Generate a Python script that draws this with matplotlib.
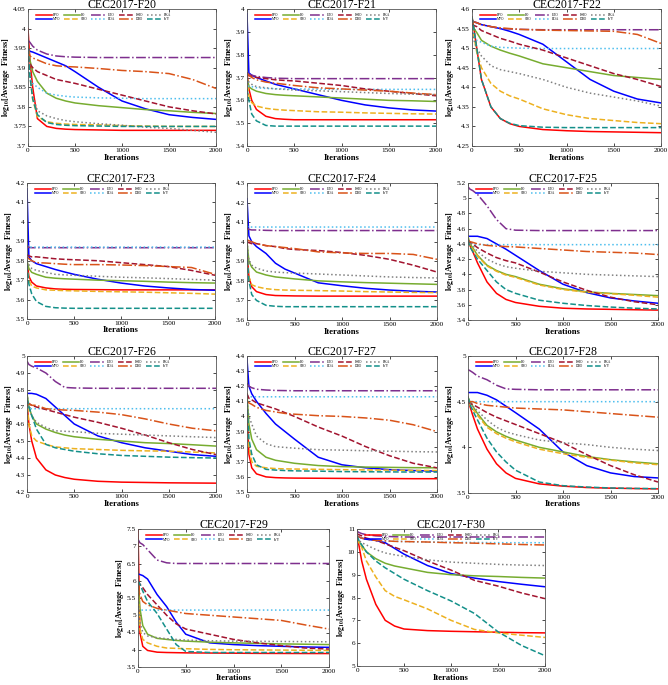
import matplotlib
matplotlib.use("Agg")
import matplotlib.pyplot as plt
from matplotlib.ticker import MultipleLocator, FuncFormatter

plt.rcParams['font.family'] = ['Liberation Serif', 'DejaVu Serif']
plt.rcParams['mathtext.fontset'] = 'stix'

X = [0, 20, 50, 100, 200, 300, 400, 500, 750, 1000, 1250, 1500, 1750, 2000]
ALGOS = ['EPO', 'MPO', 'PO', 'SBO', 'ETO', 'BOA', 'HHO', 'DBO', 'BKA', 'IVY']

F20 = {
    'EPO': [4.00, 3.92, 3.85, 3.77, 3.75, 3.745, 3.743, 3.742, 3.741, 3.740, 3.740, 3.740, 3.740, 3.740],
    'MPO': [3.95, 3.942, 3.94, 3.935, 3.925, 3.915, 3.905, 3.89, 3.85, 3.815, 3.795, 3.780, 3.773, 3.768],
    'PO':  [3.96, 3.92, 3.89, 3.865, 3.835, 3.822, 3.815, 3.810, 3.803, 3.798, 3.793, 3.790, 3.786, 3.783],
    'SBO': [3.95, 3.88, 3.82, 3.775, 3.762, 3.758, 3.756, 3.755, 3.754, 3.752, 3.751, 3.750, 3.750, 3.750],
    'ETO': [3.97, 3.965, 3.955, 3.945, 3.935, 3.93, 3.928, 3.927, 3.926, 3.926, 3.926, 3.926, 3.926, 3.926],
    'BOA': [3.90, 3.87, 3.86, 3.85, 3.835, 3.83, 3.827, 3.825, 3.823, 3.822, 3.821, 3.821, 3.821, 3.821],
    'HHO': [3.93, 3.91, 3.90, 3.89, 3.88, 3.87, 3.865, 3.86, 3.845, 3.83, 3.815, 3.80, 3.79, 3.782],
    'DBO': [3.95, 3.93, 3.925, 3.92, 3.91, 3.905, 3.903, 3.902, 3.898, 3.893, 3.89, 3.885, 3.87, 3.847],
    'BKA': [3.96, 3.90, 3.83, 3.79, 3.777, 3.77, 3.765, 3.762, 3.757, 3.753, 3.748, 3.745, 3.740, 3.735],
    'IVY': [3.95, 3.88, 3.82, 3.78, 3.76, 3.755, 3.753, 3.752, 3.751, 3.750, 3.750, 3.750, 3.750, 3.750],
}
F21 = {
    'EPO': [3.72, 3.65, 3.60, 3.56, 3.53, 3.52, 3.517, 3.515, 3.515, 3.515, 3.515, 3.515, 3.515, 3.515],
    'MPO': [3.98, 3.72, 3.71, 3.70, 3.685, 3.67, 3.66, 3.65, 3.625, 3.60, 3.58, 3.567, 3.558, 3.553],
    'PO':  [3.70, 3.66, 3.65, 3.64, 3.63, 3.625, 3.622, 3.62, 3.615, 3.61, 3.605, 3.60, 3.598, 3.595],
    'SBO': [3.70, 3.62, 3.59, 3.575, 3.565, 3.56, 3.557, 3.555, 3.55, 3.548, 3.545, 3.543, 3.541, 3.54],
    'ETO': [3.72, 3.715, 3.71, 3.705, 3.70, 3.697, 3.696, 3.695, 3.695, 3.695, 3.695, 3.695, 3.695, 3.695],
    'BOA': [3.70, 3.66, 3.66, 3.655, 3.652, 3.651, 3.65, 3.65, 3.649, 3.648, 3.648, 3.648, 3.648, 3.648],
    'HHO': [3.71, 3.708, 3.705, 3.70, 3.695, 3.69, 3.687, 3.685, 3.675, 3.665, 3.65, 3.64, 3.63, 3.62],
    'DBO': [3.72, 3.71, 3.70, 3.69, 3.68, 3.675, 3.67, 3.665, 3.655, 3.65, 3.645, 3.64, 3.632, 3.625],
    'BKA': [3.70, 3.68, 3.67, 3.66, 3.655, 3.65, 3.648, 3.645, 3.642, 3.638, 3.634, 3.63, 3.627, 3.625],
    'IVY': [3.65, 3.60, 3.54, 3.51, 3.49, 3.487, 3.487, 3.487, 3.487, 3.487, 3.487, 3.487, 3.487, 3.487],
}
F22 = {
    'EPO': [4.58, 4.55, 4.50, 4.42, 4.35, 4.32, 4.307, 4.30, 4.292, 4.289, 4.287, 4.286, 4.285, 4.284],
    'MPO': [4.57, 4.567, 4.565, 4.56, 4.555, 4.55, 4.543, 4.535, 4.51, 4.465, 4.42, 4.39, 4.37, 4.36],
    'PO':  [4.57, 4.55, 4.54, 4.52, 4.505, 4.495, 4.487, 4.48, 4.46, 4.45, 4.44, 4.43, 4.425, 4.42],
    'SBO': [4.58, 4.53, 4.49, 4.45, 4.41, 4.39, 4.378, 4.37, 4.345, 4.33, 4.32, 4.315, 4.31, 4.307],
    'ETO': [4.57, 4.567, 4.565, 4.56, 4.555, 4.55, 4.549, 4.548, 4.547, 4.547, 4.547, 4.547, 4.547, 4.547],
    'BOA': [4.55, 4.53, 4.52, 4.515, 4.505, 4.502, 4.501, 4.50, 4.499, 4.499, 4.499, 4.499, 4.499, 4.499],
    'HHO': [4.56, 4.558, 4.555, 4.545, 4.535, 4.525, 4.518, 4.51, 4.495, 4.475, 4.455, 4.435, 4.42, 4.402],
    'DBO': [4.57, 4.567, 4.565, 4.56, 4.555, 4.552, 4.55, 4.548, 4.546, 4.545, 4.544, 4.543, 4.535, 4.512],
    'BKA': [4.55, 4.52, 4.50, 4.48, 4.455, 4.445, 4.44, 4.435, 4.42, 4.40, 4.385, 4.375, 4.365, 4.352],
    'IVY': [4.58, 4.55, 4.50, 4.42, 4.35, 4.32, 4.308, 4.302, 4.298, 4.297, 4.297, 4.297, 4.297, 4.297],
}
F23 = {
    'EPO': [3.80, 3.72, 3.69, 3.67, 3.66, 3.655, 3.653, 3.652, 3.651, 3.65, 3.65, 3.65, 3.65, 3.65],
    'MPO': [4.17, 3.82, 3.80, 3.785, 3.77, 3.755, 3.742, 3.73, 3.705, 3.685, 3.67, 3.66, 3.652, 3.648],
    'PO':  [3.80, 3.76, 3.74, 3.73, 3.715, 3.71, 3.707, 3.705, 3.70, 3.697, 3.694, 3.69, 3.687, 3.685],
    'SBO': [3.78, 3.70, 3.67, 3.66, 3.65, 3.648, 3.646, 3.645, 3.642, 3.64, 3.638, 3.635, 3.632, 3.628],
    'ETO': [3.88, 3.868, 3.867, 3.867, 3.867, 3.867, 3.867, 3.867, 3.867, 3.867, 3.867, 3.867, 3.867, 3.867],
    'BOA': [3.88, 3.87, 3.87, 3.87, 3.87, 3.87, 3.87, 3.87, 3.87, 3.87, 3.87, 3.87, 3.87, 3.87],
    'HHO': [3.83, 3.825, 3.82, 3.82, 3.815, 3.81, 3.807, 3.805, 3.80, 3.79, 3.78, 3.77, 3.75, 3.725],
    'DBO': [3.82, 3.81, 3.80, 3.79, 3.788, 3.785, 3.782, 3.78, 3.78, 3.778, 3.775, 3.77, 3.765, 3.73],
    'BKA': [3.80, 3.78, 3.76, 3.75, 3.74, 3.73, 3.727, 3.725, 3.72, 3.715, 3.712, 3.708, 3.704, 3.70],
    'IVY': [3.78, 3.68, 3.63, 3.59, 3.565, 3.558, 3.556, 3.555, 3.555, 3.555, 3.555, 3.555, 3.555, 3.555],
}
F24 = {
    'EPO': [3.95, 3.82, 3.77, 3.745, 3.73, 3.725, 3.724, 3.723, 3.722, 3.722, 3.722, 3.722, 3.722, 3.722],
    'MPO': [4.22, 4.03, 4.00, 3.975, 3.94, 3.89, 3.86, 3.84, 3.79, 3.775, 3.762, 3.753, 3.747, 3.743],
    'PO':  [4.00, 3.90, 3.87, 3.845, 3.83, 3.82, 3.815, 3.81, 3.80, 3.795, 3.791, 3.788, 3.785, 3.782],
    'SBO': [3.95, 3.82, 3.78, 3.77, 3.76, 3.755, 3.753, 3.752, 3.75, 3.748, 3.745, 3.743, 3.741, 3.74],
    'ETO': [4.07, 4.063, 4.06, 4.06, 4.058, 4.057, 4.057, 4.057, 4.057, 4.057, 4.057, 4.057, 4.057, 4.057],
    'BOA': [4.08, 4.075, 4.075, 4.075, 4.075, 4.075, 4.075, 4.075, 4.075, 4.075, 4.075, 4.075, 4.075, 4.075],
    'HHO': [4.00, 3.995, 3.99, 3.99, 3.98, 3.975, 3.965, 3.96, 3.955, 3.945, 3.93, 3.91, 3.88, 3.845],
    'DBO': [4.01, 4.005, 4.00, 3.99, 3.98, 3.975, 3.97, 3.965, 3.948, 3.943, 3.94, 3.94, 3.935, 3.91],
    'BKA': [4.00, 3.90, 3.88, 3.865, 3.85, 3.845, 3.842, 3.84, 3.835, 3.83, 3.825, 3.82, 3.817, 3.815],
    'IVY': [3.95, 3.80, 3.73, 3.70, 3.675, 3.67, 3.668, 3.668, 3.668, 3.668, 3.668, 3.668, 3.668, 3.668],
}
F25 = {
    'EPO': [4.45, 4.38, 4.30, 4.15, 3.90, 3.75, 3.67, 3.63, 3.58, 3.555, 3.545, 3.54, 3.535, 3.53],
    'MPO': [4.50, 4.50, 4.50, 4.50, 4.47, 4.40, 4.33, 4.25, 4.05, 3.87, 3.76, 3.69, 3.65, 3.62],
    'PO':  [4.50, 4.40, 4.35, 4.25, 4.12, 4.05, 4.00, 3.97, 3.87, 3.81, 3.77, 3.75, 3.735, 3.72],
    'SBO': [4.45, 4.38, 4.33, 4.24, 4.11, 4.04, 3.99, 3.96, 3.86, 3.80, 3.765, 3.745, 3.725, 3.70],
    'ETO': [5.15, 5.12, 5.10, 5.05, 4.90, 4.72, 4.60, 4.58, 4.575, 4.575, 4.575, 4.575, 4.575, 4.575],
    'BOA': [4.45, 4.42, 4.40, 4.39, 4.39, 4.39, 4.39, 4.39, 4.39, 4.39, 4.39, 4.39, 4.39, 4.39],
    'HHO': [4.45, 4.42, 4.40, 4.35, 4.28, 4.22, 4.18, 4.15, 4.03, 3.90, 3.79, 3.70, 3.64, 3.60],
    'DBO': [4.45, 4.43, 4.42, 4.40, 4.38, 4.37, 4.365, 4.36, 4.34, 4.32, 4.30, 4.29, 4.28, 4.26],
    'BKA': [4.45, 4.42, 4.38, 4.30, 4.20, 4.14, 4.10, 4.08, 4.04, 4.02, 4.00, 3.99, 3.98, 3.97],
    'IVY': [4.45, 4.36, 4.30, 4.20, 4.05, 3.90, 3.80, 3.75, 3.66, 3.62, 3.59, 3.57, 3.555, 3.545],
}
F26 = {
    'EPO': [4.72, 4.60, 4.50, 4.40, 4.33, 4.30, 4.285, 4.275, 4.263, 4.258, 4.256, 4.254, 4.253, 4.252],
    'MPO': [4.78, 4.78, 4.78, 4.775, 4.75, 4.70, 4.65, 4.60, 4.53, 4.49, 4.46, 4.44, 4.42, 4.41],
    'PO':  [4.78, 4.70, 4.65, 4.60, 4.57, 4.55, 4.535, 4.525, 4.51, 4.50, 4.49, 4.485, 4.478, 4.47],
    'SBO': [4.75, 4.60, 4.53, 4.50, 4.48, 4.465, 4.46, 4.455, 4.45, 4.445, 4.442, 4.44, 4.435, 4.43],
    'ETO': [4.97, 4.95, 4.94, 4.93, 4.90, 4.85, 4.815, 4.812, 4.81, 4.81, 4.81, 4.81, 4.81, 4.81],
    'BOA': [4.70, 4.69, 4.69, 4.69, 4.69, 4.69, 4.69, 4.69, 4.69, 4.69, 4.69, 4.69, 4.69, 4.69],
    'HHO': [4.73, 4.72, 4.71, 4.70, 4.685, 4.67, 4.655, 4.64, 4.61, 4.575, 4.535, 4.49, 4.45, 4.42],
    'DBO': [4.73, 4.72, 4.71, 4.71, 4.69, 4.685, 4.682, 4.68, 4.67, 4.655, 4.63, 4.60, 4.575, 4.56],
    'BKA': [4.78, 4.70, 4.65, 4.61, 4.58, 4.56, 4.557, 4.555, 4.545, 4.54, 4.535, 4.53, 4.525, 4.52],
    'IVY': [4.75, 4.70, 4.65, 4.57, 4.48, 4.46, 4.45, 4.44, 4.425, 4.415, 4.41, 4.405, 4.402, 4.40],
}
F27 = {
    'EPO': [4.05, 3.75, 3.66, 3.62, 3.60, 3.595, 3.593, 3.592, 3.591, 3.59, 3.589, 3.589, 3.588, 3.588],
    'MPO': [4.38, 4.20, 4.15, 4.10, 4.02, 3.95, 3.90, 3.85, 3.73, 3.68, 3.66, 3.648, 3.642, 3.638],
    'PO':  [4.15, 3.95, 3.85, 3.78, 3.73, 3.71, 3.70, 3.69, 3.675, 3.668, 3.665, 3.663, 3.661, 3.66],
    'SBO': [4.10, 3.80, 3.70, 3.67, 3.66, 3.655, 3.653, 3.652, 3.65, 3.648, 3.646, 3.645, 3.643, 3.642],
    'ETO': [4.22, 4.20, 4.19, 4.18, 4.175, 4.172, 4.171, 4.17, 4.17, 4.17, 4.17, 4.17, 4.17, 4.17],
    'BOA': [4.14, 4.13, 4.13, 4.13, 4.13, 4.13, 4.13, 4.13, 4.13, 4.13, 4.13, 4.13, 4.13, 4.13],
    'HHO': [4.15, 4.12, 4.11, 4.09, 4.07, 4.05, 4.025, 4.00, 3.93, 3.87, 3.80, 3.74, 3.69, 3.66],
    'DBO': [4.10, 4.09, 4.08, 4.06, 4.04, 4.03, 4.02, 4.015, 4.005, 4.00, 3.99, 3.975, 3.945, 3.90],
    'BKA': [4.10, 4.00, 3.95, 3.87, 3.82, 3.80, 3.795, 3.79, 3.78, 3.777, 3.773, 3.77, 3.767, 3.765],
    'IVY': [4.10, 3.85, 3.75, 3.68, 3.65, 3.645, 3.642, 3.64, 3.638, 3.635, 3.634, 3.633, 3.632, 3.632],
}
F28 = {
    'EPO': [4.55, 4.45, 4.35, 4.20, 3.98, 3.82, 3.72, 3.66, 3.60, 3.575, 3.56, 3.553, 3.549, 3.545],
    'MPO': [4.60, 4.60, 4.60, 4.60, 4.57, 4.52, 4.45, 4.38, 4.20, 3.95, 3.80, 3.72, 3.68, 3.665],
    'PO':  [4.55, 4.50, 4.45, 4.37, 4.24, 4.17, 4.12, 4.08, 4.00, 3.95, 3.90, 3.865, 3.84, 3.82],
    'SBO': [4.50, 4.46, 4.42, 4.35, 4.22, 4.15, 4.10, 4.06, 3.98, 3.93, 3.89, 3.86, 3.83, 3.81],
    'ETO': [4.85, 4.84, 4.82, 4.78, 4.74, 4.68, 4.64, 4.635, 4.63, 4.63, 4.63, 4.63, 4.63, 4.63],
    'BOA': [4.52, 4.50, 4.50, 4.50, 4.50, 4.50, 4.50, 4.50, 4.50, 4.50, 4.50, 4.50, 4.50, 4.50],
    'HHO': [4.50, 4.48, 4.47, 4.44, 4.38, 4.33, 4.29, 4.25, 4.15, 4.05, 3.92, 3.80, 3.70, 3.62],
    'DBO': [4.50, 4.50, 4.50, 4.48, 4.46, 4.45, 4.44, 4.43, 4.42, 4.41, 4.39, 4.37, 4.35, 4.33],
    'BKA': [4.52, 4.48, 4.45, 4.40, 4.30, 4.22, 4.17, 4.14, 4.08, 4.05, 4.03, 4.00, 3.98, 3.965],
    'IVY': [4.55, 4.47, 4.40, 4.30, 4.10, 3.95, 3.84, 3.75, 3.62, 3.58, 3.565, 3.555, 3.55, 3.548],
}
F29 = {
    'EPO': [7.5, 4.5, 4.1, 3.98, 3.93, 3.92, 3.915, 3.91, 3.905, 3.90, 3.895, 3.893, 3.891, 3.89],
    'MPO': [6.2, 6.18, 6.15, 6.05, 5.6, 5.25, 4.8, 4.45, 4.2, 4.15, 4.12, 4.10, 4.08, 4.07],
    'PO':  [6.0, 5.2, 4.7, 4.45, 4.33, 4.30, 4.27, 4.25, 4.22, 4.20, 4.185, 4.17, 4.16, 4.15],
    'SBO': [5.8, 4.6, 4.3, 4.2, 4.1, 4.05, 4.04, 4.03, 4.01, 4.0, 3.995, 3.99, 3.985, 3.98],
    'ETO': [7.2, 7.1, 7.05, 6.9, 6.6, 6.52, 6.5, 6.5, 6.5, 6.5, 6.5, 6.5, 6.5, 6.5],
    'BOA': [5.2, 5.15, 5.15, 5.15, 5.15, 5.15, 5.15, 5.15, 5.15, 5.15, 5.15, 5.15, 5.15, 5.15],
    'HHO': [6.0, 5.9, 5.8, 5.6, 5.3, 5.0, 4.75, 4.6, 4.45, 4.3, 4.2, 4.12, 4.05, 4.02],
    'DBO': [6.0, 5.6, 5.4, 5.3, 5.2, 5.15, 5.1, 5.05, 5.0, 4.95, 4.9, 4.85, 4.72, 4.6],
    'BKA': [5.5, 4.8, 4.5, 4.4, 4.35, 4.32, 4.3, 4.28, 4.26, 4.25, 4.245, 4.24, 4.235, 4.23],
    'IVY': [6.0, 5.9, 5.7, 5.4, 5.05, 4.6, 4.15, 3.95, 3.92, 3.92, 3.92, 3.92, 3.92, 3.92],
}
F30 = {
    'EPO': [10.7, 10.3, 9.6, 8.8, 7.7, 7.0, 6.75, 6.62, 6.55, 6.52, 6.5, 6.48, 6.46, 6.45],
    'MPO': [10.7, 10.65, 10.6, 10.55, 10.5, 10.4, 10.15, 9.9, 9.4, 9.05, 8.85, 8.7, 8.58, 8.47],
    'PO':  [10.6, 10.45, 10.3, 10.0, 9.7, 9.5, 9.38, 9.3, 9.1, 9.0, 8.95, 8.92, 8.88, 8.85],
    'SBO': [10.6, 10.4, 10.2, 9.6, 8.9, 8.3, 8.05, 7.9, 7.5, 7.0, 6.6, 6.45, 6.35, 6.25],
    'ETO': [10.9, 10.85, 10.8, 10.75, 10.7, 10.68, 10.66, 10.65, 10.65, 10.65, 10.65, 10.65, 10.65, 10.65],
    'BOA': [10.7, 10.65, 10.6, 10.55, 10.5, 10.48, 10.46, 10.45, 10.43, 10.42, 10.41, 10.4, 10.4, 10.4],
    'HHO': [10.8, 10.75, 10.7, 10.6, 10.5, 10.35, 10.2, 10.05, 9.6, 9.2, 8.75, 8.5, 8.2, 7.95],
    'DBO': [10.7, 10.65, 10.6, 10.55, 10.5, 10.48, 10.46, 10.45, 10.43, 10.4, 10.38, 10.35, 10.32, 10.3],
    'BKA': [10.6, 10.5, 10.4, 10.3, 10.1, 9.95, 9.87, 9.8, 9.65, 9.55, 9.5, 9.45, 9.42, 9.4],
    'IVY': [10.7, 10.5, 10.3, 10.0, 9.6, 9.3, 9.05, 8.8, 8.3, 7.85, 7.3, 6.5, 5.9, 5.45],
}

TITLES = ['CEC2017-F20', 'CEC2017-F21', 'CEC2017-F22', 'CEC2017-F23', 'CEC2017-F24',
          'CEC2017-F25', 'CEC2017-F26', 'CEC2017-F27', 'CEC2017-F28', 'CEC2017-F29',
          'CEC2017-F30']
DATA = [F20, F21, F22, F23, F24, F25, F26, F27, F28, F29, F30]
YLIMS = [(3.7, 4.05, 0.05), (3.4, 4.0, 0.1), (4.25, 4.6, 0.05), (3.5, 4.2, 0.1),
         (3.6, 4.3, 0.1), (3.4, 5.2, 0.2), (4.2, 5.0, 0.1), (3.5, 4.4, 0.1),
         (3.5, 5.0, 0.5), (3.5, 7.5, 0.5), (5, 11, 1)]

STYLES = {
    'EPO': ('#FF0000', '-'),
    'MPO': ('#0000FF', '-'),
    'PO':  ('#77AC30', '-'),
    'SBO': ('#EDB120', '--'),
    'ETO': ('#7E2F8E', '-.'),
    'BOA': ('#4DBEEE', ':'),
    'HHO': ('#A2142F', '--'),
    'DBO': ('#D95319', '-.'),
    'BKA': ('#808080', ':'),
    'IVY': ('#14908A', '--'),
}

# axes rectangles in pixels: left, top, right, bottom
RECTS = [(28, 9, 216, 146), (247, 9, 436, 146), (472, 9, 661, 146),
         (27, 183, 215, 319), (247, 183, 437, 320), (468, 183, 658, 320),
         (27, 356, 216, 492), (247, 356, 437, 492), (468, 356, 658, 493),
         (138, 529, 329, 667), (357, 529, 545, 666)]

W, H = 668, 685
fig = plt.figure(figsize=(W / 100, H / 100), dpi=100)
fmt = FuncFormatter(lambda v, p: ('%.2f' % v).rstrip('0').rstrip('.'))

for data, title, (y0, y1, step), (l, t, r, b) in zip(DATA, TITLES, YLIMS, RECTS):
    ax = fig.add_axes([l / W, 1 - b / H, (r - l) / W, (b - t) / H])
    for name in ALGOS:
        c, ls = STYLES[name]
        ax.plot(X, data[name], color=c, linestyle=ls, linewidth=1.1, label=name)
    ax.set_xlim(0, 2000)
    ax.set_ylim(y0, y1)
    ax.xaxis.set_major_locator(MultipleLocator(500))
    ax.yaxis.set_major_locator(MultipleLocator(step))
    ax.yaxis.set_major_formatter(fmt)
    ax.tick_params(direction='in', labelsize=5.2, length=2, width=0.5,
                   top=True, right=True, pad=1.5)
    for s in ax.spines.values():
        s.set_linewidth(0.6)
        s.set_color('#555555')
    ax.set_title(title, fontsize=8.5, pad=1)
    ax.set_xlabel('Iterations', fontsize=6.2, fontweight='bold', labelpad=0.3)
    ax.set_ylabel(r'$\mathbf{log_{10}}$[Average  Fitness]', fontsize=5.8,
                  fontweight='bold', labelpad=0.5)
    ax.legend(loc='upper left', bbox_to_anchor=(0.03, 0.99), ncol=5, frameon=False,
              fontsize=2.5, handlelength=4.5, columnspacing=1.0, labelspacing=0.2,
              handletextpad=0.4, borderpad=0.2)

fig.savefig('out.png', dpi=100)
